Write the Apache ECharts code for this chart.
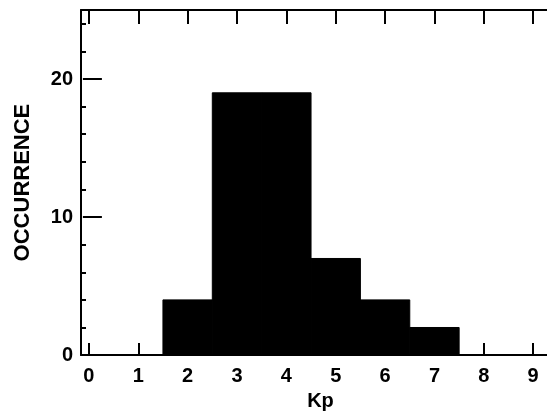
<!DOCTYPE html>
<html>
<head>
<meta charset="utf-8">
<script src="https://cdn.jsdelivr.net/npm/echarts@6/dist/echarts.min.js"></script>
<style>html,body{margin:0;padding:0;background:#fff;}#c{width:547px;height:416px;}</style>
</head>
<body>
<div id="c"></div>
<script>
const kpBins = [2, 3, 4, 5, 6, 7];
const occurrence = [4, 19, 19, 7, 4, 2];
const xTickValues = [0, 1, 2, 3, 4, 5, 6, 7, 8, 9];
const yLabelValues = [0, 10, 20];
const yMinorValues = [2, 4, 6, 8, 12, 14, 16, 18, 22, 24];

const FONT = "'Liberation Sans', Arial, Helvetica, sans-serif";
const chart = echarts.init(document.getElementById('c'), null, {renderer: 'canvas'});
const lineStyle = {color: '#000', width: 2};
const data = kpBins.map((k, i) => [k - 0.5, k + 0.5, occurrence[i]]);

chart.setOption({
  animation: false,
  backgroundColor: '#fff',
  grid: {left: 81, top: 10, right: 0, bottom: 54, containLabel: false},
  xAxis: [{
    type: 'value', position: 'bottom', min: -0.16, max: 9.28,
    axisLine: {show: true, onZero: false, lineStyle: lineStyle},
    axisTick: {show: true, inside: true, length: 12, lineStyle: lineStyle, customValues: xTickValues},
    axisLabel: {show: true, customValues: xTickValues, color: '#000', fontSize: 20, fontWeight: 'bold', fontFamily: FONT, margin: 11},
    splitLine: {show: false},
    name: 'Kp', nameLocation: 'middle', nameGap: 29,
    nameTextStyle: {color: '#000', fontSize: 20, fontWeight: 'bold', fontFamily: FONT, padding: [0, 0, 0, 13]}
  }, {
    type: 'value', position: 'top', min: -0.16, max: 9.28,
    axisLine: {show: true, onZero: false, lineStyle: lineStyle},
    axisTick: {show: true, inside: true, length: 14, lineStyle: lineStyle, customValues: xTickValues},
    axisLabel: {show: false},
    splitLine: {show: false}
  }],
  yAxis: [{
    type: 'value', position: 'left', min: 0, max: 25,
    axisLine: {show: true, onZero: false, lineStyle: lineStyle},
    axisTick: {show: true, inside: true, length: 5, lineStyle: lineStyle, customValues: yMinorValues},
    axisLabel: {show: true, customValues: yLabelValues, color: '#000', fontSize: 20, fontWeight: 'bold', fontFamily: FONT, margin: 8},
    splitLine: {show: false},
    name: 'OCCURRENCE', nameLocation: 'middle', nameGap: 47,
    nameTextStyle: {color: '#000', fontSize: 22, fontWeight: 'bold', fontFamily: FONT}
  }, {
    type: 'value', position: 'left', min: 0, max: 25,
    axisLine: {show: false},
    axisTick: {show: true, inside: true, length: 13, lineStyle: lineStyle, customValues: [10, 20]},
    axisLabel: {show: false},
    splitLine: {show: false}
  }, {
    type: 'value', position: 'right', min: 0, max: 25,
    axisLine: {show: false},
    axisTick: {show: true, inside: true, length: 6, lineStyle: lineStyle, customValues: [10, 20]},
    axisLabel: {show: false},
    splitLine: {show: false}
  }],
  series: [{
    type: 'custom',
    xAxisIndex: 0, yAxisIndex: 0,
    data: data,
    encode: {x: [0, 1], y: 2},
    renderItem: function (params, api) {
      const p0 = api.coord([api.value(0), api.value(2)]);
      const p1 = api.coord([api.value(1), 0]);
      return {
        type: 'rect',
        shape: {x: p0[0], y: p0[1], width: p1[0] - p0[0], height: p1[1] - p0[1]},
        style: {fill: '#000', stroke: '#000', lineWidth: 1}
      };
    }
  }]
});
</script>
</body>
</html>
